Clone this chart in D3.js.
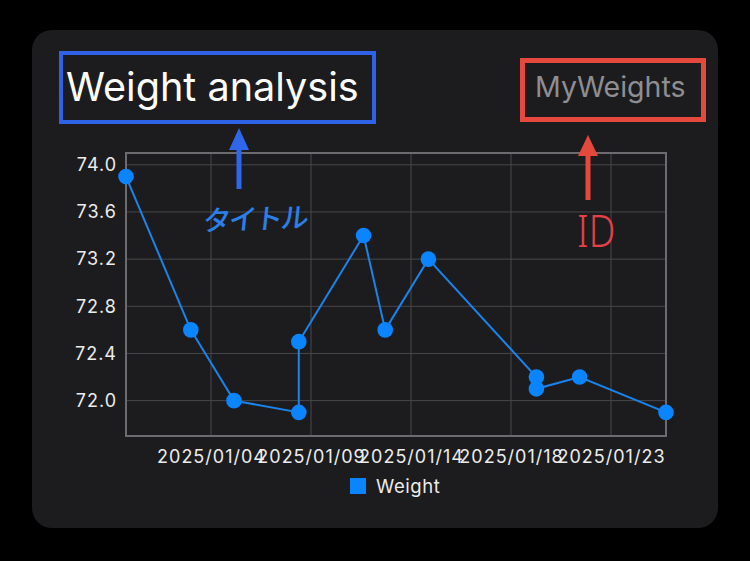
<!DOCTYPE html>
<html>
<head>
  <meta charset="utf-8">
  <style>
    html, body {
      margin: 0;
      padding: 0;
      background: #000;
    }

    body {
      font-family: Inter, "Noto Sans", sans-serif;
    }

    #chart {
      width: 750px;
      height: 561px;
    }

    .axis text {
      fill: #ececec;
      font-family: Inter, "Noto Sans", sans-serif;
      font-size: 18px;
      letter-spacing: 1px;
    }

    .axis path,
    .axis line {
      display: none;
    }

    .grid line {
      stroke: #48484b;
      stroke-width: 1;
    }
  </style>
</head>
<body>
  <div id="chart"></div>
  <script src="https://d3js.org/d3.v7.min.js"></script>
  <script>

    // DATA
    var dates = [
      '2025-01-01', '2025-01-04', '2025-01-06', '2025-01-09', '2025-01-09',
      '2025-01-12', '2025-01-13', '2025-01-15', '2025-01-20', '2025-01-20',
      '2025-01-22', '2025-01-26'
    ];
    var weights = [73.9, 72.6, 72.0, 71.9, 72.5, 73.4, 72.6, 73.2, 72.2, 72.1, 72.2, 71.9];

    var yTicks = [72.0, 72.4, 72.8, 73.2, 73.6, 74.0];
    var xTicks = [
      '2025-01-04T22:26', '2025-01-09T13:34', '2025-01-14T04:40',
      '2025-01-18T19:47', '2025-01-23T10:54'
    ];

    var title = 'Weight analysis';
    var chartId = 'MyWeights';
    var seriesName = 'Weight';

    var parseDay = d3.timeParse('%Y-%m-%d');
    var parseTick = d3.timeParse('%Y-%m-%dT%H:%M');

    var points = dates.map(function(d, i) {
      return { date: parseDay(d), value: weights[i] };
    });

    // LAYOUT
    var width = 750;
    var height = 561;

    var plot = { left: 126, right: 666, top: 153, bottom: 436 };

    var blue = '#0a84ff';

    var svg = d3.select('#chart')
      .append('svg')
        .attr('width', width)
        .attr('height', height);

    // card
    svg.append('rect')
      .attr('x', 32)
      .attr('y', 30)
      .attr('width', 686)
      .attr('height', 498)
      .attr('rx', 20)
      .style('fill', '#1c1c1e');

    var x = d3.scaleTime()
      .domain(d3.extent(points, d => d.date))
      .range([plot.left, plot.right]);

    var y = d3.scaleLinear()
      .domain([71.7, 74.1])
      .range([plot.bottom, plot.top]);

    // grid
    var grid = svg.append('g').attr('class', 'grid');

    grid.selectAll('.gy')
      .data(yTicks)
      .enter()
        .append('line')
          .attr('x1', plot.left)
          .attr('x2', plot.right)
          .attr('y1', d => y(d))
          .attr('y2', d => y(d));

    grid.selectAll('.gx')
      .data(xTicks.map(parseTick))
      .enter()
        .append('line')
          .attr('x1', d => x(d))
          .attr('x2', d => x(d))
          .attr('y1', plot.top)
          .attr('y2', plot.bottom);

    svg.append('rect')
      .attr('x', plot.left)
      .attr('y', plot.top)
      .attr('width', plot.right - plot.left)
      .attr('height', plot.bottom - plot.top)
      .style('fill', 'none')
      .style('stroke', '#6c6c70')
      .style('stroke-width', 2);

    // axes
    svg.append('g')
      .attr('class', 'axis')
      .attr('transform', `translate(${plot.left - 3},0)`)
      .call(d3.axisLeft(y)
        .tickValues(yTicks)
        .tickSize(0)
        .tickPadding(6)
        .tickFormat(d3.format('.1f')));

    svg.append('g')
      .attr('class', 'axis')
      .attr('transform', `translate(0,${plot.bottom})`)
      .call(d3.axisBottom(x)
        .tickValues(xTicks.map(parseTick))
        .tickSize(0)
        .tickPadding(14)
        .tickFormat(d3.timeFormat('%Y/%m/%d')));

    // series
    var line = d3.line()
      .x(d => x(d.date))
      .y(d => y(d.value));

    svg.append('path')
      .datum(points)
      .attr('d', line)
      .style('fill', 'none')
      .style('stroke', '#1a84ec')
      .style('stroke-width', 2);

    svg.selectAll('.dot')
      .data(points)
      .enter()
        .append('circle')
          .attr('class', 'dot')
          .attr('cx', d => x(d.date))
          .attr('cy', d => y(d.value))
          .attr('r', 7.8)
          .style('fill', blue);

    // legend
    var legend = svg.append('g')
      .attr('transform', 'translate(350,478)');

    legend.append('rect')
      .attr('width', 16)
      .attr('height', 16)
      .style('fill', blue);

    legend.append('text')
      .attr('x', 26)
      .attr('y', 15)
      .style('fill', '#ececec')
      .style('font-size', '18.5px')
      .style('letter-spacing', '0.6px')
      .text(seriesName);

    // title and id
    svg.append('text')
      .attr('x', 66)
      .attr('y', 101)
      .style('fill', '#fff')
      .style('font-size', '39.6px')
      .text(title);

    svg.append('text')
      .attr('x', 535)
      .attr('y', 97)
      .style('fill', '#8e8e93')
      .style('font-size', '28.5px')
      .text(chartId);

    // annotations
    svg.append('rect')
      .attr('x', 61)
      .attr('y', 53)
      .attr('width', 313)
      .attr('height', 69)
      .style('fill', 'none')
      .style('stroke', '#2f62e6')
      .style('stroke-width', 4);

    svg.append('rect')
      .attr('x', 522.5)
      .attr('y', 60.5)
      .attr('width', 181)
      .attr('height', 59)
      .style('fill', 'none')
      .style('stroke', '#e5493d')
      .style('stroke-width', 5);

    function arrow(cx, tip, base, bottom, color) {
      svg.append('line')
        .attr('x1', cx)
        .attr('x2', cx)
        .attr('y1', base - 2)
        .attr('y2', bottom)
        .style('stroke', color)
        .style('stroke-width', 5);

      svg.append('path')
        .attr('d', `M${cx},${tip}L${cx + 10},${base}L${cx - 10},${base}Z`)
        .style('fill', color);
    }

    arrow(239, 128, 150, 189, '#2f66ea');
    arrow(588, 135, 156, 200, '#e5493d');

    svg.append('text')
      .attr('transform', 'translate(202,231) rotate(-2) skewX(-8)')
      .style('fill', '#2a7fe8')
      .style('font-family', '"Noto Sans CJK JP"')
      .style('font-size', '28px')
      .style('font-weight', 500)
      .style('letter-spacing', '-2px')
      .text('タイトル');

    svg.append('text')
      .attr('transform', 'translate(577,247) scale(0.85,1)')
      .style('fill', '#e5404a')
      .style('font-family', '"Noto Sans"')
      .style('font-size', '44px')
      .style('font-weight', 300)
      .text('ID');

  </script>
</body>
</html>
